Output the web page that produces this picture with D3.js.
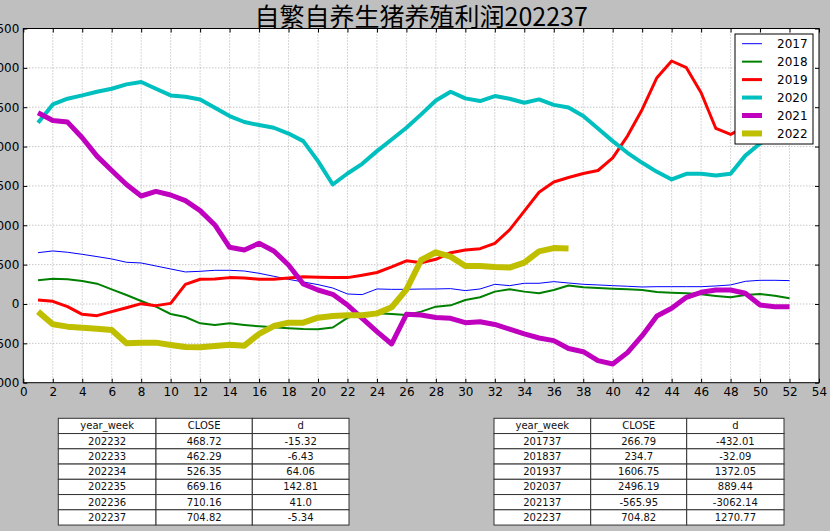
<!DOCTYPE html>
<html>
<head>
<meta charset="utf-8">
<script src="https://cdn.jsdelivr.net/npm/d3@7"></script>
<style>
html,body{margin:0;padding:0;background:#bfbfbf;}
svg{display:block;}
</style>
</head>
<body>
<svg id="chart" width="830" height="531"></svg>
<script>
const title = "自繁自养生猪养殖利润202237";
const years = ["2017","2018","2019","2020","2021","2022"];
const colors = ["#0000ff","#008000","#ff0000","#00bfbf","#bf00bf","#bfbf00"];
const widths = [1,2,3,4,5,6];

const s2017 = [652,674,657,631,602,572,530,521,483,445, 407,415,428,428,419,390,352,313,280,246, 203,127,119,191,186,186,190,191,195,170, 191,250,233,263,263,284,266.79,250,242,233, 225,216,220,220,220,220,229,242,288,301, 301,297];
const s2018 = [301,322,314,292,258,186,114,38,-34,-127, -165,-246,-267,-246,-267,-284,-297,-309,-318,-322, -299,-176,-130,-119,-127,-140,-97,-34,-17,51, 85,157,186,157,136,178,234.7,212,203,195, 186,178,153,144,136,123,102,85,114,127, 106,72];
const s2019 = [51,34,-34,-131,-148,-97,-47,4,-21,8, 250,314,318,335,330,314,314,330,345,339, 337,335,366,400,472,549,525,568,652,686, 703,771,941,1180,1420,1550,1606.75,1658,1696,1857, 2133,2472,2875,3087,3002,2684,2230,2154,2250,2300, 2350,2400];
const s2020 = [2302,2536,2608,2650,2697,2735,2790,2820,2735,2650, 2633,2599,2494,2388,2312,2273,2239,2165,2069,1815, 1518,1658,1781,1942,2090,2239,2409,2586,2697,2612, 2578,2642,2608,2557,2599,2530,2496.19,2388,2230,2069, 1921,1794,1679,1582,1654,1654,1633,1654,1885,2040, 2150,2250];
const s2021 = [2430,2332,2311,2112,1879,1696,1518,1372,1430,1385, 1313,1186,1004,720,686,771,674,496,254,178, 123,-13,-182,-352,-508,-131,-140,-172,-182,-237, -225,-260,-320,-380,-432,-465,-565.95,-606,-720,-763, -618,-403,-153,-55,85,148,178,178,136,-13, -34,-34];
const s2022 = [-97,-258,-288,-301,-314,-330,-500,-491,-491,-521, -547,-551,-534,-517,-530,-381,-280,-237,-237,-174, -153,-144,-144,-119,-42,182,559,657,602,483, 484.04,468.72,462.29,526.35,669.16,710.16,704.82];
const seriesValues = [s2017,s2018,s2019,s2020,s2021,s2022];

const xTicks = d3.range(0,55,2);
const yTicks = d3.range(-1000,3501,500);

const tableHeader = ["year_week","CLOSE","d"];
const tableLeftWeek = ["202232","202233","202234","202235","202236","202237"];
const tableLeftClose = ["468.72","462.29","526.35","669.16","710.16","704.82"];
const tableLeftD = ["-15.32","-6.43","64.06","142.81","41.0","-5.34"];
const tableRightWeek = ["201737","201837","201937","202037","202137","202237"];
const tableRightClose = ["266.79","234.7","1606.75","2496.19","-565.95","704.82"];
const tableRightD = ["-432.01","-32.09","1372.05","889.44","-3062.14","1270.77"];

const svg = d3.select("#chart");
const L = 23.3, R = 819, T = 28.5, B = 382.7;
const x = d3.scaleLinear().domain([0,54]).range([L,R]);
const y = d3.scaleLinear().domain([-1000,3500]).range([B,T]);

svg.append("rect").attr("x",0).attr("y",0).attr("width",830).attr("height",531).attr("fill","#bfbfbf");
svg.append("rect").attr("x",L).attr("y",T).attr("width",R-L).attr("height",B-T).attr("fill","#ffffff");

// grid
const grid = svg.append("g");
grid.selectAll("line.gx").data(xTicks.slice(1,-1)).enter().append("line")
  .attr("x1",d=>x(d)).attr("x2",d=>x(d)).attr("y1",T).attr("y2",B)
  .attr("stroke","#999").attr("stroke-width",0.8).attr("stroke-dasharray","1,2");
grid.selectAll("line.gy").data(yTicks.slice(1,-1)).enter().append("line")
  .attr("x1",L).attr("x2",R).attr("y1",d=>y(d)).attr("y2",d=>y(d))
  .attr("stroke","#999").attr("stroke-width",0.8).attr("stroke-dasharray","1,2");

// lines
const clip = svg.append("clipPath").attr("id","clip").append("rect")
  .attr("x",L).attr("y",T).attr("width",R-L).attr("height",B-T);
const lineGen = d3.line().x((d,i)=>x(i+1)).y(d=>y(d));
const lg = svg.append("g").attr("clip-path","url(#clip)");
seriesValues.forEach((vals,k)=>{
  lg.append("path").datum(vals).attr("d",lineGen)
    .attr("fill","none").attr("stroke",colors[k]).attr("stroke-width",widths[k])
    .attr("stroke-linejoin","round").attr("stroke-linecap","butt");
});

// axes
const fontAxis = "'DejaVu Sans', sans-serif";
const axB = svg.append("g").attr("transform",`translate(0,${B})`)
  .call(d3.axisBottom(x).tickValues(xTicks).tickSize(-4).tickPadding(5).tickFormat(d3.format("d")));
const axT = svg.append("g").attr("transform",`translate(0,${T})`)
  .call(d3.axisTop(x).tickValues(xTicks).tickSize(-4).tickFormat(""));
const axL = svg.append("g").attr("transform",`translate(${L},0)`)
  .call(d3.axisLeft(y).tickValues(yTicks).tickSize(-4).tickPadding(4).tickFormat(d3.format("d")));
const axR = svg.append("g").attr("transform",`translate(${R},0)`)
  .call(d3.axisRight(y).tickValues(yTicks).tickSize(-4).tickFormat(""));
[axB,axT,axL,axR].forEach(a=>{
  a.select(".domain").remove();
  a.selectAll(".tick line").attr("stroke","#000").attr("stroke-width",1);
  a.selectAll(".tick text").attr("font-family",fontAxis).attr("font-size",12).attr("fill","#000");
});
svg.append("rect").attr("x",L).attr("y",T).attr("width",R-L).attr("height",B-T)
  .attr("fill","none").attr("stroke","#000").attr("stroke-width",1);

// title
svg.append("text").attr("x",(L+R)/2).attr("y",26).attr("text-anchor","middle")
  .attr("font-family","'Noto Sans CJK SC', sans-serif").attr("font-size",25).attr("fill","#000")
  .text(title);

// legend
const leg = svg.append("g");
leg.append("rect").attr("x",735).attr("y",34).attr("width",78).attr("height",110)
  .attr("fill","#fff").attr("stroke","#000").attr("stroke-width",1);
years.forEach((yr,k)=>{
  const cy = 43.7 + k*17.95;
  leg.append("line").attr("x1",742).attr("x2",762).attr("y1",cy).attr("y2",cy)
    .attr("stroke",colors[k]).attr("stroke-width",widths[k]);
  leg.append("text").attr("x",777).attr("y",cy).attr("dy","0.36em")
    .attr("font-family",fontAxis).attr("font-size",12).attr("fill","#000").text(yr);
});

// tables
function drawTable(x0, colW, weeks, closes, ds){
  const rows = [tableHeader].concat(weeks.map((w,i)=>[w,closes[i],ds[i]]));
  const top = 418.3, rh = 15.25;
  const g = svg.append("g");
  rows.forEach((r,i)=>{
    r.forEach((c,j)=>{
      g.append("rect").attr("x",x0+colW[0]*0+colW.slice(0,j).reduce((a,b)=>a+b,0)).attr("y",top+i*rh)
        .attr("width",colW[j]).attr("height",rh).attr("fill","#fff").attr("stroke","#333").attr("stroke-width",1);
      g.append("text").attr("x",x0+colW.slice(0,j).reduce((a,b)=>a+b,0)+colW[j]/2).attr("y",top+i*rh+rh/2)
        .attr("dy","0.35em").attr("text-anchor","middle")
        .attr("font-family",fontAxis).attr("font-size",10).attr("fill","#111").text(c);
    });
  });
}
drawTable(58.3,[97.7,96.3,96.7],tableLeftWeek,tableLeftClose,tableLeftD);
drawTable(494,[96.7,96,97.3],tableRightWeek,tableRightClose,tableRightD);
</script>
</body>
</html>
